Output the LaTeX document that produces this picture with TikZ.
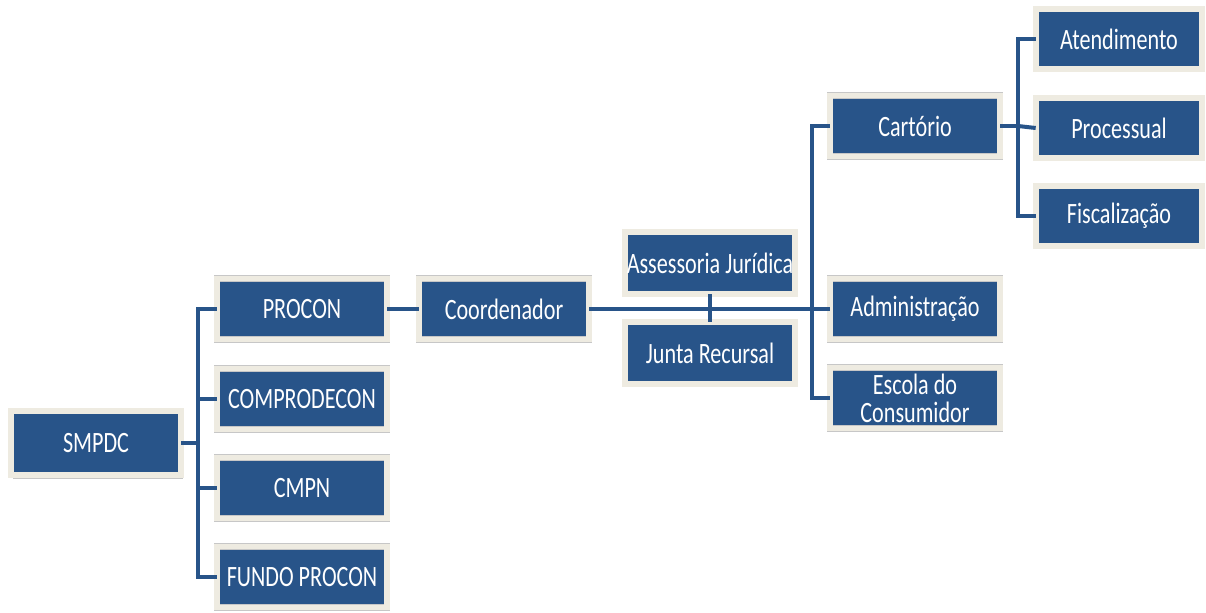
\documentclass[tikz,border=0pt]{standalone}
\usepackage{fontspec}
\setmainfont[FakeStretch=0.75]{Carlito}
\usetikzlibrary{positioning,shadows}
\definecolor{orgblue}{RGB}{40,84,137}
\definecolor{orgrim}{RGB}{238,235,225}

\tikzset{
  unitbox/.style={draw=black!22, double=orgrim, double distance=0.11cm, line width=0.4pt,
    fill=orgblue, text=white,
    minimum width=3.4cm, minimum height=1.22cm, inner sep=1pt, align=center,
    font=\fontsize{16.8}{16}\selectfont,
    drop shadow={opacity=0.45, shadow xshift=0.04cm, shadow yshift=-0.07cm}},
  link/.style={draw=orgblue, line width=0.08cm}
}

\begin{document}
\begin{tikzpicture}[x=0.02cm, y=-0.02cm]
            \useasboundingbox (0,0) rectangle (1206,612);

            \node[unitbox, minimum height=1.28cm] (smpdc) at (96,443) {SMPDC};
            \node[unitbox] (procon) at (302,309) {PROCON};
            \node[unitbox] (comprodecon) at (302,399) {COMPRODECON};
            \node[unitbox] (cmpn) at (302,488) {CMPN};
            \node[unitbox] (fundo) at (302,577) {FUNDO PROCON};
            \node[unitbox] (coord) at (504,309) {Coordenador};
            \node[unitbox, minimum height=1.24cm] (assessoria) at (710,263) {Assessoria Jurídica};
            \node[unitbox, minimum height=1.24cm] (junta) at (710,353) {Junta Recursal};
            \node[unitbox] (cartorio) at (915,126) {Cartório};
            \node[unitbox] (admin) at (915,309) {Administração};
            \node[unitbox] (escola) at (915,398) {Escola do\\Consumidor};
            \node[unitbox, minimum width=3.32cm, minimum height=1.2cm] (atend) at (1119,39) {Atendimento};
            \node[unitbox, minimum width=3.32cm, minimum height=1.2cm] (processual) at (1119,128) {Processual};
            \node[unitbox, minimum width=3.32cm, minimum height=1.2cm] (fisc) at (1119,216) {Fiscalização};

            \coordinate (hubA) at (198,443);
            \coordinate (hubB) at (812,309);
            \coordinate (hubC) at (1018,126);

            \draw[link] (smpdc.east) -- (hubA);
            \draw[link] (procon.west) -| (hubA) |- (fundo.west);
            \draw[link] (hubA) |- (comprodecon.west);
            \draw[link] (hubA) |- (cmpn.west);
            \draw[link] (procon) -- (coord);
            \draw[link] (coord) -- (admin);
            \draw[link] (assessoria) -- (junta);
            \draw[link] (cartorio.west) -| (hubB) |- (escola.west);
            \draw[link] (cartorio.east) -- (hubC);
            \draw[link] (atend.west) -| (hubC) |- (fisc.west);
            \draw[link] (hubC) -- (processual.west);
        \end{tikzpicture}
\end{document}
